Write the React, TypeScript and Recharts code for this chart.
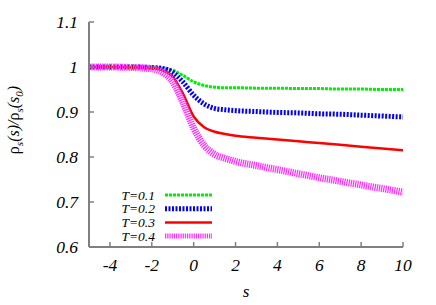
import React from "react"
import { LineChart, Line, XAxis, YAxis, Legend } from "recharts"

const sValues = [-5, -4, -3, -2, -1.5, -1, -0.5, 0, 0.5, 1, 1.5, 2, 3, 4, 5, 6, 7, 8, 9, 10]
const t01 = [1, 1, 1, 0.999, 0.997, 0.993, 0.981, 0.967, 0.959, 0.955, 0.954, 0.954, 0.953, 0.953, 0.952, 0.952, 0.951, 0.951, 0.95, 0.95]
const t02 = [1, 1, 1, 0.999, 0.997, 0.988, 0.966, 0.937, 0.918, 0.908, 0.905, 0.903, 0.901, 0.899, 0.898, 0.896, 0.895, 0.893, 0.891, 0.889]
const t03 = [1, 1, 0.999, 0.998, 0.993, 0.979, 0.94, 0.89, 0.866, 0.856, 0.851, 0.847, 0.843, 0.839, 0.835, 0.831, 0.827, 0.823, 0.819, 0.815]
const t04 = [1, 1, 0.999, 0.996, 0.988, 0.967, 0.92, 0.864, 0.826, 0.806, 0.797, 0.79, 0.781, 0.772, 0.763, 0.754, 0.746, 0.738, 0.73, 0.722]

const xTicks = [-4, -2, 0, 2, 4, 6, 8, 10]
const yTicks = [0.6, 0.7, 0.8, 0.9, 1, 1.1]

const seriesNames = ["T=0.1", "T=0.2", "T=0.3", "T=0.4"]
const seriesKeys = ["t01", "t02", "t03", "t04"]

// line looks for each series (gnuplot style)
const styles = [
  { color: "#00ee00", width: 3, dash: "3 1" },
  { color: "#0000ff", width: 5, dash: "2 1.5" },
  { color: "#ff0000", width: 2.5, dash: undefined },
  { color: "#ff33ff", width: 7, dash: "1.3 0.9" },
]

const data = sValues.map((s, i) => ({ s, t01: t01[i], t02: t02[i], t03: t03[i], t04: t04[i] }))

const FONT = "Liberation Serif, Times New Roman, serif"
const FRAME = "#808080"

const BottomTick = (props: any) => {
  const { x, y, payload } = props
  return (
    <g>
      <line x1={x} y1={y} x2={x} y2={y - 5} stroke={FRAME} strokeWidth={1.5} />
      <text x={x} y={y + 24} textAnchor="middle" fontFamily={FONT} fontStyle="italic" fontSize={17.5} fill="#000">
        {payload.value}
      </text>
    </g>
  )
}

const TopTick = (props: any) => {
  const { x, y } = props
  return <line x1={x} y1={y} x2={x} y2={y + 5} stroke={FRAME} strokeWidth={1.5} />
}

const LeftTick = (props: any) => {
  const { x, y, payload } = props
  return (
    <g>
      <line x1={x} y1={y} x2={x + 5} y2={y} stroke={FRAME} strokeWidth={1.5} />
      <text x={x - 11} y={y + 6} textAnchor="end" fontFamily={FONT} fontStyle="italic" fontSize={17.5} fill="#000">
        {String(payload.value)}
      </text>
    </g>
  )
}

const RightTick = (props: any) => {
  const { x, y } = props
  return <line x1={x} y1={y} x2={x - 5} y2={y} stroke={FRAME} strokeWidth={1.5} />
}

const YLabel = () => (
  <text transform="translate(19,120) rotate(-90)" textAnchor="middle" fontFamily={FONT} fontSize={16} fill="#000">
    ρ<tspan fontSize={11} fontStyle="italic" dy={4}>s</tspan>
    <tspan fontStyle="italic" dy={-4}>(s)/</tspan>ρ
    <tspan fontSize={11} fontStyle="italic" dy={4}>s</tspan>
    <tspan fontStyle="italic" dy={-4}>(s</tspan>
    <tspan fontSize={11} fontStyle="italic" dy={4}>0</tspan>
    <tspan fontStyle="italic" dy={-4}>)</tspan>
  </text>
)

const XLabel = () => (
  <text x={246} y={297} textAnchor="middle" fontFamily={FONT} fontStyle="italic" fontSize={17} fill="#000">
    s
  </text>
)

const LegendBox = () => (
  <svg width={110} height={60}>
    {seriesNames.map((name, i) => (
      <g key={name}>
        <text x={35} y={9 + i * 13.7 + 4.5} textAnchor="end" fontFamily={FONT} fontStyle="italic" fontSize={13.5} fill="#000">
          {name}
        </text>
        <line
          x1={45}
          x2={92}
          y1={9 + i * 13.7}
          y2={9 + i * 13.7}
          stroke={styles[i].color}
          strokeWidth={i === 3 ? 5 : styles[i].width}
          strokeDasharray={styles[i].dash}
        />
      </g>
    ))}
  </svg>
)

export default function App() {
  return (
    <div style={{ position: "absolute", left: 0, top: 0, width: 436, height: 305, background: "#fff" }}>
      <LineChart width={436} height={305} data={data} margin={{ top: 22, right: 33, left: 0, bottom: 0 }}>
        <XAxis
          dataKey="s"
          type="number"
          domain={[-5, 10]}
          ticks={xTicks}
          height={58}
          tickSize={0}
          tickMargin={0}
          axisLine={{ stroke: FRAME, strokeWidth: 2 }}
          tickLine={false}
          tick={<BottomTick />}
          interval={0}
          label={<XLabel />}
        />
        <XAxis
          xAxisId="top"
          orientation="top"
          type="number"
          domain={[-5, 10]}
          ticks={xTicks}
          height={0}
          tickSize={0}
          tickMargin={0}
          axisLine={{ stroke: FRAME, strokeWidth: 2 }}
          tickLine={false}
          tick={<TopTick />}
          interval={0}
        />
        <YAxis
          type="number"
          domain={[0.6, 1.1]}
          ticks={yTicks}
          width={89}
          tickSize={0}
          tickMargin={0}
          axisLine={{ stroke: FRAME, strokeWidth: 2 }}
          tickLine={false}
          tick={<LeftTick />}
          interval={0}
          label={<YLabel />}
        />
        <YAxis
          yAxisId="right"
          orientation="right"
          type="number"
          domain={[0.6, 1.1]}
          ticks={yTicks}
          width={0}
          tickSize={0}
          tickMargin={0}
          axisLine={{ stroke: FRAME, strokeWidth: 2 }}
          tickLine={false}
          tick={<RightTick />}
          interval={0}
        />
        <Legend
          layout="vertical"
          align="center"
          verticalAlign="middle"
          wrapperStyle={{ left: 120, top: 186, width: 110, height: 60 }}
          content={<LegendBox />}
        />
        {seriesKeys.map((key, i) => (
          <Line
            key={key}
            dataKey={key}
            name={seriesNames[i]}
            type="monotone"
            stroke={styles[i].color}
            strokeWidth={styles[i].width}
            strokeDasharray={styles[i].dash}
            dot={false}
            activeDot={false}
            isAnimationActive={false}
          />
        ))}
      </LineChart>
    </div>
  )
}
